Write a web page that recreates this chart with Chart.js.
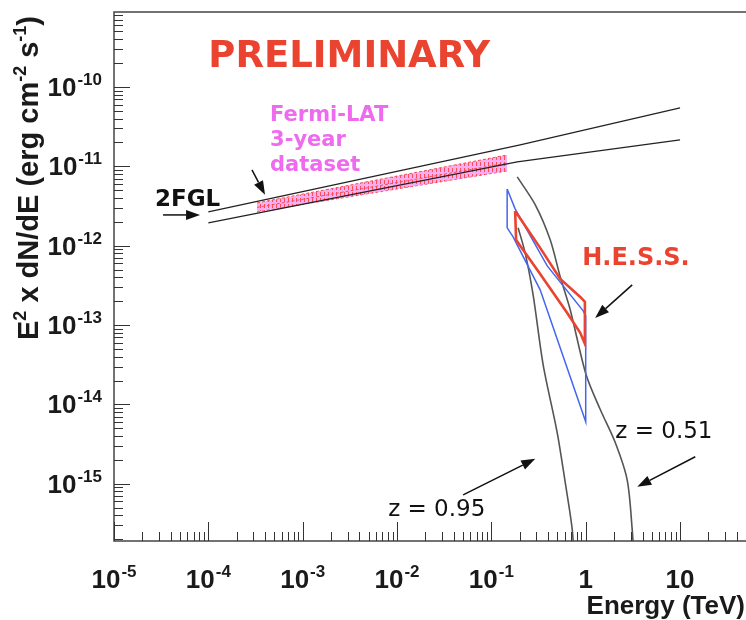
<!DOCTYPE html>
<html lang="en">
<head>
<meta charset="UTF-8">
<title>E2 dN/dE spectrum</title>
<script src="https://cdn.jsdelivr.net/npm/chart.js@4"></script>
<style>
  body { margin: 0; background: #ffffff; overflow: hidden; }
  #wrap { width: 746px; height: 620px; }
</style>
</head>
<body>
<div id="wrap"><canvas id="chart" width="746" height="620"></canvas></div>
<script>
// energies in TeV, E^2 dN/dE in erg cm^-2 s^-1
const fglUpperE = [1e-4, 0.202, 10];
const fglUpperF = [2.67e-12, 1.86e-11, 5.44e-11];
const fglLowerE = [1e-4, 0.188, 10];
const fglLowerF = [1.94e-12, 1.14e-11, 2.15e-11];

// Fermi-LAT 3-year band
const latE = [3.28e-4, 0.147];
const latUpperF = [3.46e-12, 1.39e-11];
const latMidF = [3.04e-12, 1.10e-11];
const latLowerF = [2.67e-12, 8.75e-12];

// H.E.S.S. butterflies, closed outlines
const hessRedE = [0.1786, 0.329, 0.537, 0.875, 0.98, 0.98, 0.875, 0.637, 0.329, 0.183, 0.1786];
const hessRedF = [2.74e-12, 9.38e-13, 3.82e-13, 2.26e-13, 1.96e-13, 5.80e-14, 7.98e-14, 1.42e-13, 4.41e-13, 1.18e-12, 2.74e-12];
const hessBlueE = [0.147, 0.1786, 0.391, 0.94, 1.0, 1.0, 0.329, 0.170, 0.147, 0.147];
const hessBlueF = [5.19e-12, 2.91e-12, 5.57e-13, 1.51e-13, 1.31e-13, 6.04e-15, 2.78e-13, 1.29e-12, 1.68e-12, 5.19e-12];

// EBL-absorbed extrapolations
const z051E = [0.188, 0.292, 0.421, 0.537, 0.686, 1.01, 1.43, 2.06, 2.75, 3.11, 3.27];
const z051F = [7.35e-12, 3.27e-12, 1.18e-12, 4.05e-13, 1.55e-13, 2.36e-14, 8.55e-15, 3.28e-15, 1.12e-15, 2.64e-16, 1e-16];
const z095E = [0.192, 0.228, 0.277, 0.354, 0.499, 0.607, 0.720, 0.755];
const z095F = [1.68e-12, 8.12e-13, 2.40e-13, 3.15e-14, 4.39e-15, 1.03e-15, 2.64e-16, 1e-16];

const xDecades = [-5, -4, -3, -2, -1, 0, 1];
const yDecades = [-15, -14, -13, -12, -11, -10];

const RED = '#ea4330';
const BLUE = '#4466ee';
const MAGENTA = '#ee6aee';

function pts(xs, ys) {
  return xs.map((x, i) => ({ x: x, y: ys[i] }));
}

// hatch used inside the Fermi-LAT band
function hatch() {
  const c = document.createElement('canvas');
  c.width = 4; c.height = 6;
  const g = c.getContext('2d');
  g.fillStyle = 'rgba(240,130,240,0.65)';
  g.fillRect(0, 0, 4, 6);
  g.fillStyle = 'rgba(255,60,60,0.85)';
  g.fillRect(0, 0, 1, 4);
  return g.createPattern(c, 'repeat');
}

// text annotations, positioned in data coordinates
const notes = [
  { text: 'PRELIMINARY', x: 1.0e-4, y: 1.79e-10, font: 'bold 37px "DejaVu Sans"', color: RED },
  { text: '2FGL', x: 2.72e-5, y: 3.17e-12, font: 'bold 23px "DejaVu Sans"', color: '#111' },
  { text: 'Fermi-LAT', x: 4.51e-4, y: 3.73e-11, font: 'bold 21px "DejaVu Sans"', color: MAGENTA },
  { text: '3-year', x: 4.51e-4, y: 1.81e-11, font: 'bold 21px "DejaVu Sans"', color: MAGENTA },
  { text: 'dataset', x: 4.51e-4, y: 8.75e-12, font: 'bold 21px "DejaVu Sans"', color: MAGENTA },
  { text: 'H.E.S.S.', x: 0.918, y: 5.73e-13, font: 'bold 24px "DejaVu Sans"', color: RED },
  { text: 'z = 0.51', x: 2.06, y: 3.80e-15, font: '23px "DejaVu Sans"', color: '#111' },
  { text: 'z = 0.95', x: 8.05e-3, y: 3.95e-16, font: '23px "DejaVu Sans"', color: '#111' }
];
const arrows = [
  { from: [3.31e-5, 2.44e-12], to: [8.17e-5, 2.44e-12] },
  { from: [2.90e-4, 9.01e-12], to: [3.99e-4, 4.37e-12] },
  { from: [3.11, 3.21e-13], to: [1.26, 1.23e-13] },
  { from: [14.5, 2.19e-15], to: [3.52, 9.16e-16] },
  { from: [0.0502, 7.26e-16], to: [0.292, 2.06e-15] }
];

const LABEL_FONT = 'bold 26px "Liberation Sans"';
const SUP_FONT = 'bold 17px "Liberation Sans"';
const TITLE_PX = 29;

function drawPow(ctx, exp, x, y, align) {
  // "10" with a raised exponent; 10^0 and 10^1 written plainly
  ctx.textBaseline = 'alphabetic';
  ctx.textAlign = 'left';
  if (exp === 0 || exp === 1) {
    const t = exp === 0 ? '1' : '10';
    ctx.font = LABEL_FONT;
    const w = ctx.measureText(t).width;
    ctx.fillText(t, align === 'right' ? x - w : x - w / 2, y);
    return;
  }
  ctx.font = LABEL_FONT;
  const wb = ctx.measureText('10').width;
  ctx.font = SUP_FONT;
  const sup = String(exp);
  const ws = ctx.measureText(sup).width;
  const total = wb + 1 + ws;
  const left = align === 'right' ? x - total : x - total / 2;
  ctx.font = LABEL_FONT;
  ctx.fillText('10', left, y);
  ctx.font = SUP_FONT;
  ctx.fillText(sup, left + wb + 1, y - 11);
}

function supFont(up) {
  return up ? 'bold ' + Math.round(TITLE_PX * 0.62) + 'px "Liberation Sans"'
            : 'bold ' + TITLE_PX + 'px "Liberation Sans"';
}

function drawRich(ctx, parts, x, y) {
  // parts: [text, raised]
  let cx = x;
  for (const [t, up] of parts) {
    ctx.font = supFont(up);
    ctx.fillText(t, cx, up ? y - TITLE_PX * 0.42 : y);
    cx += ctx.measureText(t).width;
  }
}

function richWidth(ctx, parts) {
  let w = 0;
  for (const [t, up] of parts) {
    ctx.font = supFont(up);
    w += ctx.measureText(t).width;
  }
  return w;
}

const decor = {
  id: 'decor',
  afterDraw(chart) {
    const ctx = chart.ctx;
    const a = chart.chartArea;
    const xs = chart.scales.x, ys = chart.scales.y;
    ctx.save();

    // frame
    ctx.strokeStyle = '#444';
    ctx.lineWidth = 1.5;
    ctx.beginPath();
    ctx.moveTo(a.right + 2, a.top);
    ctx.lineTo(a.left, a.top);
    ctx.lineTo(a.left, a.bottom);
    ctx.lineTo(a.right + 2, a.bottom);
    ctx.stroke();

    // tick marks, pointing into the frame
    ctx.lineWidth = 1;
    ctx.strokeStyle = '#333';
    for (let e = -6; e <= 2; e++) {
      for (let m = 1; m <= 9; m++) {
        const v = m * Math.pow(10, e);
        if (v >= xs.min && v <= xs.max) {
          const px = Math.round(xs.getPixelForValue(v)) + 0.5;
          ctx.beginPath();
          ctx.moveTo(px, a.bottom);
          ctx.lineTo(px, a.bottom - (m === 1 ? 19 : 9));
          ctx.stroke();
        }
      }
    }
    for (let e = -17; e <= -9; e++) {
      for (let m = 1; m <= 9; m++) {
        const v = m * Math.pow(10, e);
        if (v >= ys.min && v <= ys.max) {
          const py = Math.round(ys.getPixelForValue(v)) + 0.5;
          ctx.beginPath();
          ctx.moveTo(a.left, py);
          ctx.lineTo(a.left + (m === 1 ? 16 : 9), py);
          ctx.stroke();
        }
      }
    }

    // tick labels
    ctx.fillStyle = '#1a1a1a';
    for (const e of xDecades) {
      drawPow(ctx, e, xs.getPixelForValue(Math.pow(10, e)), a.bottom + 47, 'center');
    }
    for (const e of yDecades) {
      drawPow(ctx, e, a.left - 12, ys.getPixelForValue(Math.pow(10, e)) + 9, 'right');
    }

    // axis titles
    ctx.font = 'bold 26px "Liberation Sans"';
    ctx.textAlign = 'right';
    ctx.fillText('Energy (TeV)', 745, a.bottom + 73);
    ctx.textAlign = 'left';
    const ytitle = [['E', false], ['2', true], [' x dN/dE (erg cm', false], ['-2', true], [' s', false], ['-1', true], [')', false]];
    ctx.save();
    ctx.translate(38, 178);
    ctx.rotate(-Math.PI / 2);
    drawRich(ctx, ytitle, -richWidth(ctx, ytitle) / 2, 0);
    ctx.restore();

    // annotations
    ctx.textAlign = 'left';
    ctx.textBaseline = 'alphabetic';
    for (const n of notes) {
      ctx.font = n.font;
      ctx.fillStyle = n.color;
      ctx.fillText(n.text, xs.getPixelForValue(n.x), ys.getPixelForValue(n.y));
    }
    ctx.strokeStyle = '#111';
    ctx.fillStyle = '#111';
    ctx.lineWidth = 1.5;
    for (const ar of arrows) {
      const x0 = xs.getPixelForValue(ar.from[0]), y0 = ys.getPixelForValue(ar.from[1]);
      const x1 = xs.getPixelForValue(ar.to[0]), y1 = ys.getPixelForValue(ar.to[1]);
      const ang = Math.atan2(y1 - y0, x1 - x0);
      const hl = 14, hw = 5;
      const bx = x1 - hl * Math.cos(ang), by = y1 - hl * Math.sin(ang);
      ctx.beginPath();
      ctx.moveTo(x0, y0);
      ctx.lineTo(bx, by);
      ctx.stroke();
      ctx.beginPath();
      ctx.moveTo(x1, y1);
      ctx.lineTo(bx + hw * Math.sin(ang), by - hw * Math.cos(ang));
      ctx.lineTo(bx - hw * Math.sin(ang), by + hw * Math.cos(ang));
      ctx.closePath();
      ctx.fill();
    }
    ctx.restore();
  }
};

const line = (data, color, width, extra) => Object.assign({
  data: data, showLine: true, borderColor: color, borderWidth: width,
  pointRadius: 0, fill: false, tension: 0
}, extra || {});

const datasets = [
  line(pts(hessRedE, hessRedF), RED, 2.6),
  line(pts(hessBlueE, hessBlueF), BLUE, 1.5),
  line(pts(z051E, z051F), '#555', 1.6, { tension: 0.3 }),
  line(pts(z095E, z095F), '#555', 1.6, { tension: 0.3 }),
  line(pts(fglUpperE, fglUpperF), '#222', 1.3),
  line(pts(fglLowerE, fglLowerF), '#222', 1.3),
  line(pts(latE, latMidF), '#f05050', 1, { borderDash: [3, 2] }),
  line(pts(latE, latUpperF), '#f05050', 1, { borderDash: [3, 2], fill: '+1', backgroundColor: hatch() }),
  line(pts(latE, latLowerF), '#f05050', 1, { borderDash: [3, 2] })
];

new Chart(document.getElementById('chart').getContext('2d'), {
  type: 'scatter',
  data: { datasets: datasets },
  options: {
    responsive: false,
    animation: false,
    devicePixelRatio: 1,
    layout: { padding: { top: 12, left: 0, right: 0, bottom: 0 } },
    plugins: { legend: { display: false }, tooltip: { enabled: false } },
    scales: {
      x: {
        type: 'logarithmic', min: 1e-5, max: 50,
        ticks: { display: false }, grid: { display: false }, border: { display: false },
        afterFit(s) { s.height = 79; }
      },
      y: {
        type: 'logarithmic', min: 1.9e-16, max: 8.8e-10,
        ticks: { display: false }, grid: { display: false }, border: { display: false },
        afterFit(s) { s.width = 114; }
      }
    }
  },
  plugins: [decor]
});
</script>
</body>
</html>
